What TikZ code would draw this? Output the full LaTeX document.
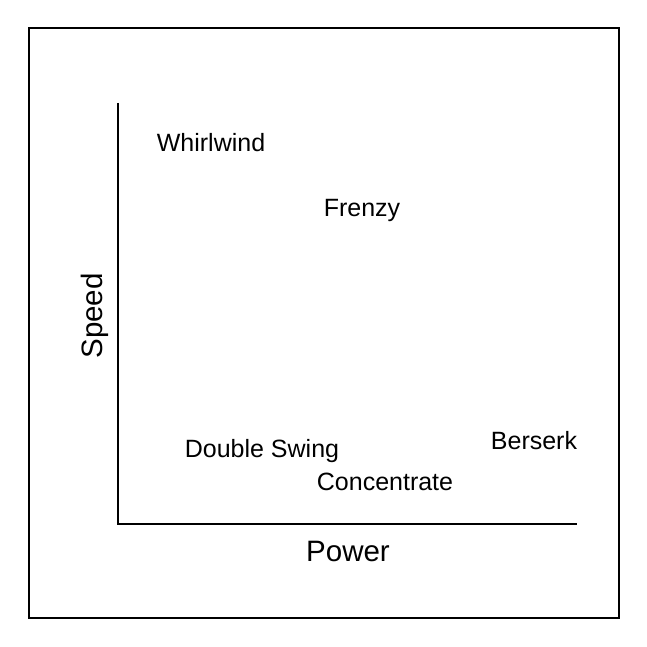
\documentclass[tikz,border=0pt]{standalone}
\usepackage{fontspec}
\setmainfont{Liberation Sans}
\usetikzlibrary{positioning}
\tikzstyle{frame} = [draw, line width=1.5pt]
\tikzstyle{axisline} = [draw, line width=2pt]
\tikzstyle{skill} = [inner sep=0pt, font=\fontsize{25}{0}\selectfont]
\tikzstyle{axislabel} = [inner sep=0pt, font=\fontsize{29.5}{0}\selectfont]

\begin{document}
\begin{tikzpicture}[x=1pt, y=-1pt]
\useasboundingbox (0,0) rectangle (646,647);
\draw[frame] (29,28) rectangle (619,618);

\coordinate (top) at (118,103);
\coordinate (origin) at (118,524);
\coordinate (right) at (577,524);
\draw[axisline] (top) -- (origin) -- (right);

\node[axislabel] (power) at (348,551) {Power};
\node[axislabel, rotate=90] (speed) at (95,316) {Speed};

\node[skill] (whirlwind) at (211,143) {Whirlwind};
\node[skill] (frenzy) at (362,210) {Frenzy};
\node[skill] (doubleswing) at (262,451) {Double Swing};
\node[skill] (concentrate) at (385,482) {Concentrate};
\node[skill] (berserk) at (534,441) {Berserk};
\end{tikzpicture}
\end{document}
